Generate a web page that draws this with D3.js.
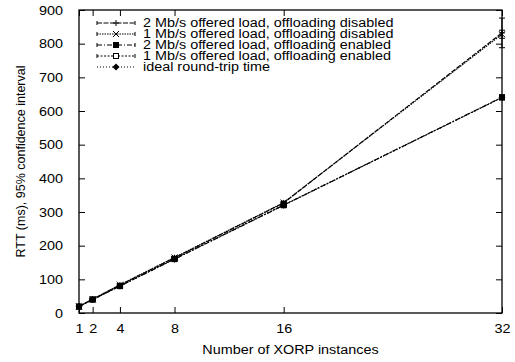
<!DOCTYPE html>
<html>
<head>
<meta charset="utf-8">
<script src="https://cdn.jsdelivr.net/npm/d3@7"></script>
<style>
body { margin: 0; background: #fff; }
svg { display: block; font-family: "Liberation Sans", Arial, sans-serif; }
text { fill: #000; }
</style>
</head>
<body>
<div id="chart"></div>
<script>
// RTT vs number of XORP instances

var instances = [1, 2, 4, 8, 16, 32];
var dis2 = [20, 41, 83, 164, 327, 832];
var dis2Err = [2, 2, 3, 3, 4, 44];
var dis1 = [19, 41, 84, 165, 328, 828];
var dis1Err = [2, 2, 3, 3, 4, 12];
var ena2 = [19, 40, 80, 160, 320, 641];
var ena2Err = [2, 2, 2, 3, 3, 4];
var ena1 = [19, 40, 80, 161, 321, 640];
var ena1Err = [2, 2, 2, 3, 3, 4];
var ideal = [20, 40, 80, 160, 320, 640];
var yTicks = [0, 100, 200, 300, 400, 500, 600, 700, 800, 900];
var xTicks = [1, 2, 4, 8, 16, 32];
var labels = [
  "2 Mb/s offered load, offloading disabled",
  "1 Mb/s offered load, offloading disabled",
  "2 Mb/s offered load, offloading enabled",
  "1 Mb/s offered load, offloading enabled",
  "ideal round-trip time"
];

var w = 515, h = 362;
var pLeft = 79, pRight = 502, pTop = 10, pBottom = 313;
var fs = "12.5px", wide = 1.15;

var series = [
  { name: labels[0], v: dis2, e: dis2Err, dash: "5,1.5", mark: "plus" },
  { name: labels[1], v: dis1, e: dis1Err, dash: "1.5,1", mark: "cross" },
  { name: labels[2], v: ena2, e: ena2Err, dash: "5,2,1,2", mark: "box" },
  { name: labels[3], v: ena1, e: ena1Err, dash: "2,1.5", mark: "obox" },
  { name: labels[4], v: ideal, e: null, dash: "1,2", mark: "diamond" }
];

var x = d3.scaleLinear().domain([1, 32]).range([pLeft, pRight]);
var y = d3.scaleLinear().domain([0, 900]).range([pBottom, pTop]);

var svg = d3.select("#chart").append("svg")
  .attr("width", w)
  .attr("height", h);

// the original is stretched sideways a little
function stretch(sel) {
  sel.each(function() {
    var l = this.getComputedTextLength();
    d3.select(this)
      .attr("textLength", l * wide)
      .attr("lengthAdjust", "spacingAndGlyphs");
  });
}

// ticks, inward, mirrored
svg.append("g")
  .attr("transform", "translate(0," + pBottom + ")")
  .call(d3.axisBottom(x).tickValues(xTicks).tickSize(-6).tickPadding(11))
  .call(function(g) { g.select(".domain").remove(); });

svg.append("g")
  .attr("transform", "translate(0," + pTop + ")")
  .call(d3.axisTop(x).tickValues(xTicks).tickSize(-6).tickFormat(""))
  .call(function(g) { g.select(".domain").remove(); });

svg.append("g")
  .attr("transform", "translate(" + pLeft + ",0)")
  .call(d3.axisLeft(y).tickValues(yTicks).tickSize(-6).tickPadding(16))
  .call(function(g) { g.select(".domain").remove(); });

svg.append("g")
  .attr("transform", "translate(" + pRight + ",0)")
  .call(d3.axisRight(y).tickValues(yTicks).tickSize(-6).tickFormat(""))
  .call(function(g) { g.select(".domain").remove(); });

svg.selectAll(".tick text")
  .style("font-size", fs)
  .style("font-family", "Liberation Sans, Arial, sans-serif")
  .call(stretch);
svg.selectAll(".tick line").attr("stroke", "#000");

svg.append("rect")
  .attr("x", pLeft)
  .attr("y", pTop)
  .attr("width", pRight - pLeft)
  .attr("height", pBottom - pTop)
  .attr("fill", "none")
  .attr("stroke", "#000")
  .attr("stroke-width", 1.3);

svg.append("text")
  .attr("x", (pLeft + pRight) / 2)
  .attr("y", 354)
  .attr("text-anchor", "middle")
  .style("font-size", fs)
  .text("Number of XORP instances")
  .call(stretch);

svg.append("text")
  .attr("transform", "translate(25," + (pTop + pBottom) / 2 + ") rotate(-90)")
  .attr("text-anchor", "middle")
  .style("font-size", fs)
  .text("RTT (ms), 95% confidence interval");

function marker(g, type, cx, cy) {
  var s = 3;
  if (type == "plus") {
    g.append("path").attr("d", "M" + (cx - s) + "," + cy + "H" + (cx + s) + "M" + cx + "," + (cy - s) + "V" + (cy + s))
      .attr("stroke", "#000").attr("fill", "none");
  } else if (type == "cross") {
    g.append("path").attr("d", "M" + (cx - s) + "," + (cy - s) + "L" + (cx + s) + "," + (cy + s) + "M" + (cx - s) + "," + (cy + s) + "L" + (cx + s) + "," + (cy - s))
      .attr("stroke", "#000").attr("fill", "none");
  } else if (type == "box") {
    g.append("rect").attr("x", cx - s).attr("y", cy - s).attr("width", 2 * s).attr("height", 2 * s)
      .attr("fill", "#000");
  } else if (type == "obox") {
    g.append("rect").attr("x", cx - s + 0.5).attr("y", cy - s + 0.5).attr("width", 2 * s - 1).attr("height", 2 * s - 1)
      .attr("fill", "#fff").attr("stroke", "#000");
  } else {
    g.append("path").attr("d", "M" + cx + "," + (cy - s - 0.5) + "L" + (cx + s + 0.5) + "," + cy + "L" + cx + "," + (cy + s + 0.5) + "L" + (cx - s - 0.5) + "," + cy + "Z")
      .attr("fill", "#000");
  }
}

var line = d3.line()
  .x(function(d) { return x(d[0]); })
  .y(function(d) { return y(d[1]); });

// draw from last series to first so disabled lines sit on top
series.slice().reverse().forEach(function(s) {
  var pts = instances.map(function(n, i) { return [n, s.v[i]]; });
  var g = svg.append("g");
  g.append("path")
    .datum(pts)
    .attr("d", line)
    .attr("fill", "none")
    .attr("stroke", "#000")
    .attr("stroke-width", 1.1)
    .attr("stroke-dasharray", s.dash);
  if (s.e) {
    instances.forEach(function(n, i) {
      var px = x(n), y0 = y(s.v[i] - s.e[i]), y1 = y(s.v[i] + s.e[i]);
      g.append("path")
        .attr("d", "M" + px + "," + y0 + "V" + y1 + "M" + (px - 3) + "," + y0 + "H" + (px + 3) + "M" + (px - 3) + "," + y1 + "H" + (px + 3))
        .attr("stroke", "#000").attr("fill", "none");
    });
  }
  pts.forEach(function(p) { marker(g, s.mark, x(p[0]), y(p[1])); });
});

// key
var key = svg.append("g");
series.forEach(function(s, i) {
  var ky = 23 + i * 11;
  key.append("path")
    .attr("d", "M97," + ky + "H135")
    .attr("stroke", "#000")
    .attr("stroke-dasharray", s.dash);
  if (s.e) {
    key.append("path")
      .attr("d", "M97," + (ky - 2) + "V" + (ky + 2) + "M135," + (ky - 2) + "V" + (ky + 2))
      .attr("stroke", "#000");
  }
  marker(key, s.mark, 116, ky);
  key.append("text")
    .attr("x", 143)
    .attr("y", ky)
    .attr("dy", "0.35em")
    .style("font-size", fs)
    .text(s.name)
    .call(stretch);
});
</script>
</body>
</html>
